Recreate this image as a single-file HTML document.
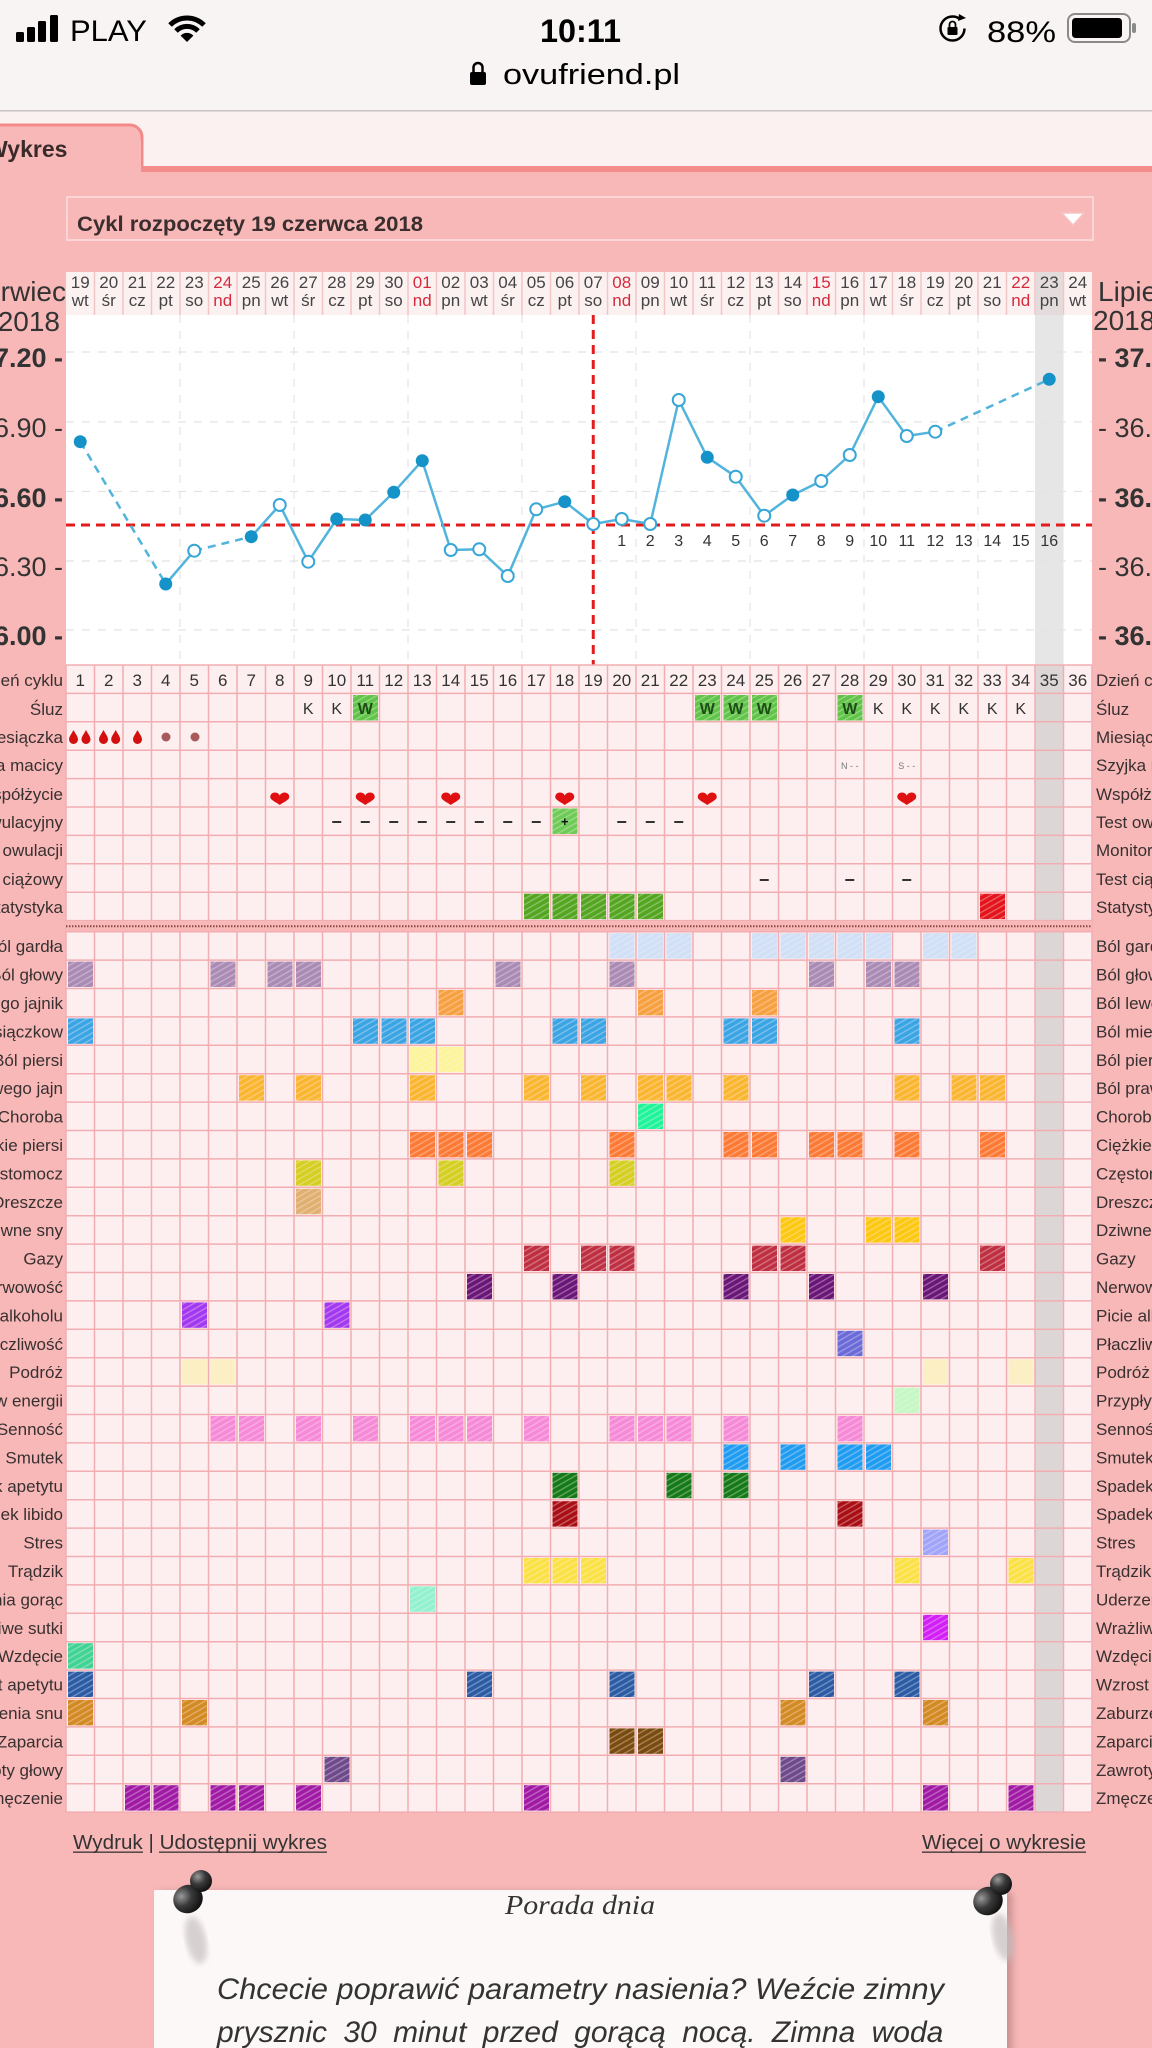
<!DOCTYPE html>
<html><head><meta charset="utf-8">
<style>
html,body{margin:0;padding:0;background:#f8b8b8;width:1152px;height:2048px;overflow:hidden}
svg{display:block}
text{font-family:"Liberation Sans",sans-serif;fill:#353030}
.h{font-size:17px;text-anchor:middle;fill:#444}
.hr{font-size:17px;text-anchor:middle;fill:#d42a3c}
.ll{font-size:17px;text-anchor:end;fill:#383030}
.rl{font-size:17px;fill:#383030}
.cd{font-size:17px;text-anchor:middle;fill:#333}
.cn{font-size:16px;text-anchor:middle;fill:#333}
.k{font-size:16px;text-anchor:middle;fill:#333}
.w{font-size:16px;text-anchor:middle;fill:#1f4d17;font-weight:bold}
.yb{font-size:27px;font-weight:bold;fill:#333}
.yn{font-size:27px;fill:#333}
.yl{text-anchor:end}
</style></head><body>
<svg width="1152" height="2048" viewBox="0 0 1152 2048" xmlns="http://www.w3.org/2000/svg">
<defs>
<path id="hrt" d="M0 6 C-4 3 -9.5 1 -9.5 -2 C-9.5 -5 -7 -6.5 -4.8 -6.5 C-2 -6.5 0 -4.5 0 -3 C0 -4.5 2 -6.5 4.8 -6.5 C7 -6.5 9.5 -5 9.5 -2 C9.5 1 4 3 0 6Z" fill="#e01010"/>
<path id="drp" d="M0 -7 C2 -3 4.5 -0.5 4.5 2.5 A4.5 4.5 0 0 1 -4.5 2.5 C-4.5 -0.5 -2 -3 0 -7Z" fill="#d40f0f"/>
<pattern id="hp" width="5" height="5" patternUnits="userSpaceOnUse" patternTransform="rotate(60)">
<rect width="5" height="5" fill="#fff"/><rect width="1.4" height="5" fill="#a8a8a8"/>
</pattern>
<mask id="mk" maskUnits="userSpaceOnUse" x="0" y="0" width="1152" height="2048">
<rect width="1152" height="2048" fill="url(#hp)"/>
</mask>
<radialGradient id="pinG" cx="35%" cy="30%" r="70%">
<stop offset="0" stop-color="#9a9a9a"/><stop offset="0.5" stop-color="#3a3a3a"/><stop offset="1" stop-color="#141414"/>
</radialGradient>
<filter id="sh" x="-5%" y="-10%" width="110%" height="130%">
<feDropShadow dx="5" dy="2" stdDeviation="4" flood-color="#8a5a5a" flood-opacity="0.45"/>
</filter>
<filter id="bl"><feGaussianBlur stdDeviation="3"/></filter>
</defs>

<!-- status / browser bar -->
<rect x="0" y="0" width="1152" height="111" fill="#f9f4f4"/>
<rect x="0" y="110" width="1152" height="1.5" fill="#c9c2c2"/>
<rect x="16" y="32" width="8" height="10" rx="1.5" fill="#000"/>
<rect x="27" y="27" width="8" height="15" rx="1.5" fill="#000"/>
<rect x="38" y="21" width="8" height="21" rx="1.5" fill="#000"/>
<rect x="50" y="15" width="8" height="27" rx="1.5" fill="#000"/>
<text x="70" y="41" style="font-size:30px;fill:#000" textLength="77" lengthAdjust="spacingAndGlyphs">PLAY</text>
<path d="M187 42 L180.6 35.6 A9 9 0 0 1 193.4 35.6 Z" fill="#000"/>
<path d="M176 31 A15.5 15.5 0 0 1 198 31" fill="none" stroke="#000" stroke-width="5"/>
<path d="M170 25 A24 24 0 0 1 204 25" fill="none" stroke="#000" stroke-width="5"/>
<text x="540" y="42" style="font-size:32px;font-weight:bold;fill:#000" textLength="81" lengthAdjust="spacingAndGlyphs">10:11</text>
<rect x="470" y="72" width="16" height="13" rx="2" fill="#000"/>
<path d="M473.5 72 V67.5 A4.5 4.5 0 0 1 482.5 67.5 V72" fill="none" stroke="#000" stroke-width="2.5"/>
<text x="503" y="84" style="font-size:29px;fill:#000" textLength="177" lengthAdjust="spacingAndGlyphs">ovufriend.pl</text>
<circle cx="952.5" cy="28.5" r="12" fill="none" stroke="#000" stroke-width="2.5" stroke-dasharray="64 12"/>
<path d="M959 14 L966 18 L958 21 Z" fill="#000"/>
<rect x="947.5" y="27" width="10" height="8" rx="1" fill="#000"/>
<path d="M949.5 27 V24.5 A3 3 0 0 1 955.5 24.5 V27" fill="none" stroke="#000" stroke-width="1.8"/>
<text x="987" y="42" style="font-size:30px;fill:#000" textLength="69" lengthAdjust="spacingAndGlyphs">88%</text>
<rect x="1068" y="14" width="62" height="28" rx="7" fill="none" stroke="#8a8a8a" stroke-width="2"/>
<rect x="1072" y="18" width="50" height="20" rx="3.5" fill="#000"/>
<rect x="1132" y="23" width="4" height="10" rx="2" fill="#8a8a8a"/>

<!-- tab area -->
<rect x="0" y="111.5" width="1152" height="56" fill="#fbf1f1"/>
<path d="M-5 175 V125 H130 A12 12 0 0 1 142 137 V175" fill="#f8b8b8" stroke="#f28a8a" stroke-width="3"/>
<rect x="140.5" y="166" width="1012" height="6" fill="#f48c8c"/>
<rect x="0" y="172" width="1152" height="1876" fill="#f8b8b8"/>
<rect x="-5" y="140" width="146" height="40" fill="#f8b8b8"/>
<text x="-14" y="157" style="font-size:23px;font-weight:bold;fill:#3a2a2a">Wykres</text>

<!-- dropdown -->
<rect x="67" y="197" width="1026" height="43" fill="#f8b8b8" stroke="#fcd6d6" stroke-width="2"/>
<text x="77" y="231" style="font-size:21px;font-weight:bold;fill:#3a2e2e" textLength="346" lengthAdjust="spacingAndGlyphs">Cykl rozpoczęty 19 czerwca 2018</text>
<path d="M1062 213 L1084 213 L1073 225 Z" fill="#fff" stroke="#f6c4c4" stroke-width="1.5"/>

<!-- month labels -->
<text x="66" y="301" style="font-size:28px;text-anchor:end;fill:#333">Czerwiec</text>
<text x="60" y="331" style="font-size:28px;text-anchor:end;fill:#333">2018</text>
<text x="1098" y="301" style="font-size:28px;fill:#333">Lipiec</text>
<text x="1093" y="330" style="font-size:28px;fill:#333">2018</text>

<!-- header -->
<rect x="66" y="272" width="1026" height="43" fill="#fcf1f1"/>
<rect x="1035" y="272" width="28.5" height="43" fill="#e4dcdc"/>
<path d="M94.5 272V315M123 272V315M151.5 272V315M180 272V315M208.5 272V315M237 272V315M265.5 272V315M294 272V315M322.5 272V315M351 272V315M379.5 272V315M408 272V315M436.5 272V315M465 272V315M493.5 272V315M522 272V315M550.5 272V315M579 272V315M607.5 272V315M636 272V315M664.5 272V315M693 272V315M721.5 272V315M750 272V315M778.5 272V315M807 272V315M835.5 272V315M864 272V315M892.5 272V315M921 272V315M949.5 272V315M978 272V315M1006.5 272V315M1035 272V315M1063.5 272V315" stroke="#f3c6c6" stroke-width="1.5"/>
<text class="h" x="80.25" y="288">19<tspan x="80.25" y="306">wt</tspan></text>
<text class="h" x="108.75" y="288">20<tspan x="108.75" y="306">śr</tspan></text>
<text class="h" x="137.25" y="288">21<tspan x="137.25" y="306">cz</tspan></text>
<text class="h" x="165.75" y="288">22<tspan x="165.75" y="306">pt</tspan></text>
<text class="h" x="194.25" y="288">23<tspan x="194.25" y="306">so</tspan></text>
<text class="hr" x="222.75" y="288">24<tspan x="222.75" y="306">nd</tspan></text>
<text class="h" x="251.25" y="288">25<tspan x="251.25" y="306">pn</tspan></text>
<text class="h" x="279.75" y="288">26<tspan x="279.75" y="306">wt</tspan></text>
<text class="h" x="308.25" y="288">27<tspan x="308.25" y="306">śr</tspan></text>
<text class="h" x="336.75" y="288">28<tspan x="336.75" y="306">cz</tspan></text>
<text class="h" x="365.25" y="288">29<tspan x="365.25" y="306">pt</tspan></text>
<text class="h" x="393.75" y="288">30<tspan x="393.75" y="306">so</tspan></text>
<text class="hr" x="422.25" y="288">01<tspan x="422.25" y="306">nd</tspan></text>
<text class="h" x="450.75" y="288">02<tspan x="450.75" y="306">pn</tspan></text>
<text class="h" x="479.25" y="288">03<tspan x="479.25" y="306">wt</tspan></text>
<text class="h" x="507.75" y="288">04<tspan x="507.75" y="306">śr</tspan></text>
<text class="h" x="536.25" y="288">05<tspan x="536.25" y="306">cz</tspan></text>
<text class="h" x="564.75" y="288">06<tspan x="564.75" y="306">pt</tspan></text>
<text class="h" x="593.25" y="288">07<tspan x="593.25" y="306">so</tspan></text>
<text class="hr" x="621.75" y="288">08<tspan x="621.75" y="306">nd</tspan></text>
<text class="h" x="650.25" y="288">09<tspan x="650.25" y="306">pn</tspan></text>
<text class="h" x="678.75" y="288">10<tspan x="678.75" y="306">wt</tspan></text>
<text class="h" x="707.25" y="288">11<tspan x="707.25" y="306">śr</tspan></text>
<text class="h" x="735.75" y="288">12<tspan x="735.75" y="306">cz</tspan></text>
<text class="h" x="764.25" y="288">13<tspan x="764.25" y="306">pt</tspan></text>
<text class="h" x="792.75" y="288">14<tspan x="792.75" y="306">so</tspan></text>
<text class="hr" x="821.25" y="288">15<tspan x="821.25" y="306">nd</tspan></text>
<text class="h" x="849.75" y="288">16<tspan x="849.75" y="306">pn</tspan></text>
<text class="h" x="878.25" y="288">17<tspan x="878.25" y="306">wt</tspan></text>
<text class="h" x="906.75" y="288">18<tspan x="906.75" y="306">śr</tspan></text>
<text class="h" x="935.25" y="288">19<tspan x="935.25" y="306">cz</tspan></text>
<text class="h" x="963.75" y="288">20<tspan x="963.75" y="306">pt</tspan></text>
<text class="h" x="992.25" y="288">21<tspan x="992.25" y="306">so</tspan></text>
<text class="hr" x="1020.75" y="288">22<tspan x="1020.75" y="306">nd</tspan></text>
<text class="h" x="1049.25" y="288">23<tspan x="1049.25" y="306">pn</tspan></text>
<text class="h" x="1077.75" y="288">24<tspan x="1077.75" y="306">wt</tspan></text>

<!-- chart -->
<rect x="66" y="315" width="1026" height="350" fill="#fff"/>
<rect x="1035" y="315" width="28.5" height="350" fill="#e6e6e6"/>
<path d="M66 352H1092M66 422H1092M66 491.5H1092M66 561H1092M66 630H1092" stroke="#e2e2e2" stroke-width="1.3" stroke-dasharray="8 8"/>
<path d="M180 315V665M294 315V665M408 315V665M522 315V665M636 315V665M750 315V665M864 315V665M978 315V665" stroke="#e6e6e6" stroke-width="1.3" stroke-dasharray="8 8"/>
<text class="yb yl" x="63" y="367">37.20 -</text>
<text class="yn yl" x="63" y="437">36.90 -</text>
<text class="yb yl" x="63" y="507">36.60 -</text>
<text class="yn yl" x="63" y="576">36.30 -</text>
<text class="yb yl" x="63" y="645">36.00 -</text>
<text class="yb" x="1098" y="367">- 37.20</text>
<text class="yn" x="1098" y="437">- 36.90</text>
<text class="yb" x="1098" y="507">- 36.60</text>
<text class="yn" x="1098" y="576">- 36.30</text>
<text class="yb" x="1098" y="645">- 36.00</text>
<line x1="66" y1="525" x2="1092" y2="525" stroke="#e21c1c" stroke-width="3" stroke-dasharray="9 6"/>
<line x1="593.25" y1="315" x2="593.25" y2="665" stroke="#e21c1c" stroke-width="3" stroke-dasharray="9 6"/>
<g class="cn">
<text class="cn" x="621.75" y="546">1</text><text class="cn" x="650.25" y="546">2</text><text class="cn" x="678.75" y="546">3</text><text class="cn" x="707.25" y="546">4</text><text class="cn" x="735.75" y="546">5</text><text class="cn" x="764.25" y="546">6</text><text class="cn" x="792.75" y="546">7</text><text class="cn" x="821.25" y="546">8</text><text class="cn" x="849.75" y="546">9</text><text class="cn" x="878.25" y="546">10</text><text class="cn" x="906.75" y="546">11</text><text class="cn" x="935.25" y="546">12</text><text class="cn" x="963.75" y="546">13</text><text class="cn" x="992.25" y="546">14</text><text class="cn" x="1020.75" y="546">15</text><text class="cn" x="1049.25" y="546">16</text>
</g>
<g fill="none" stroke="#52b4dc" stroke-width="2.5" stroke-linejoin="round">
<polyline points="165.75,584 194.25,550.7"/>
<polyline points="251.25,536.7 279.75,505 308.25,561.7 336.75,519 365.25,520 393.75,492.3 422.25,460.7 450.75,550 479.25,549.3 507.75,576 536.25,509.3 564.75,501.7 593.25,524 621.75,519 650.25,524 678.75,400 707.25,457.3 735.75,476.7 764.25,515.7 792.75,495 821.25,481 849.75,455 878.25,396.7 906.75,436 935.25,431.7"/>
<g stroke-dasharray="8 6">
<polyline points="80.25,441.7 165.75,584"/>
<polyline points="194.25,550.7 251.25,536.7"/>
<polyline points="935.25,431.7 1049.25,379.3"/>
</g>
</g>
<g fill="#1592c7">
<circle cx="80.25" cy="441.7" r="6.5"/><circle cx="165.75" cy="584" r="6.5"/><circle cx="251.25" cy="536.7" r="6.5"/><circle cx="336.75" cy="519" r="6.5"/><circle cx="365.25" cy="520" r="6.5"/><circle cx="393.75" cy="492.3" r="6.5"/><circle cx="422.25" cy="460.7" r="6.5"/><circle cx="564.75" cy="501.7" r="6.5"/><circle cx="707.25" cy="457.3" r="6.5"/><circle cx="792.75" cy="495" r="6.5"/><circle cx="878.25" cy="396.7" r="6.5"/><circle cx="1049.25" cy="379.3" r="6.5"/>
</g>
<g fill="#fff" stroke="#38a6d6" stroke-width="2">
<circle cx="194.25" cy="550.7" r="6"/><circle cx="279.75" cy="505" r="6"/><circle cx="308.25" cy="561.7" r="6"/><circle cx="450.75" cy="550" r="6"/><circle cx="479.25" cy="549.3" r="6"/><circle cx="507.75" cy="576" r="6"/><circle cx="536.25" cy="509.3" r="6"/><circle cx="593.25" cy="524" r="6"/><circle cx="621.75" cy="519" r="6"/><circle cx="650.25" cy="524" r="6"/><circle cx="678.75" cy="400" r="6"/><circle cx="735.75" cy="476.7" r="6"/><circle cx="764.25" cy="515.7" r="6"/><circle cx="821.25" cy="481" r="6"/><circle cx="849.75" cy="455" r="6"/><circle cx="906.75" cy="436" r="6"/><circle cx="935.25" cy="431.7" r="6"/>
</g>

<!-- table -->
<rect x="66" y="665" width="1026" height="1147" fill="#fdefef"/>
<rect x="1035" y="665" width="28.5" height="1147" fill="#ddd6d6"/>
<path d="M66 665V1812M94.5 665V1812M123 665V1812M151.5 665V1812M180 665V1812M208.5 665V1812M237 665V1812M265.5 665V1812M294 665V1812M322.5 665V1812M351 665V1812M379.5 665V1812M408 665V1812M436.5 665V1812M465 665V1812M493.5 665V1812M522 665V1812M550.5 665V1812M579 665V1812M607.5 665V1812M636 665V1812M664.5 665V1812M693 665V1812M721.5 665V1812M750 665V1812M778.5 665V1812M807 665V1812M835.5 665V1812M864 665V1812M892.5 665V1812M921 665V1812M949.5 665V1812M978 665V1812M1006.5 665V1812M1035 665V1812M1063.5 665V1812M1092 665V1812" stroke="#f2adb2" stroke-width="1.5"/>
<path d="M66 665H1092M66 693.4H1092M66 721.8H1092M66 750.2H1092M66 778.6H1092M66 807H1092M66 835.4H1092M66 863.8H1092M66 892.2H1092M66 920.6H1092M66 931.7H1092M66 960.1H1092M66 988.5H1092M66 1016.9H1092M66 1045.3H1092M66 1073.7H1092M66 1102.1H1092M66 1130.5H1092M66 1158.9H1092M66 1187.3H1092M66 1215.7H1092M66 1244.1H1092M66 1272.5H1092M66 1300.9H1092M66 1329.3H1092M66 1357.7H1092M66 1386.1H1092M66 1414.5H1092M66 1442.9H1092M66 1471.3H1092M66 1499.7H1092M66 1528.1H1092M66 1556.5H1092M66 1584.9H1092M66 1613.3H1092M66 1641.7H1092M66 1670.1H1092M66 1698.5H1092M66 1726.9H1092M66 1755.3H1092M66 1783.7H1092M66 1812.1H1092" stroke="#f2adb2" stroke-width="1.5"/>
<rect x="66" y="921.3" width="1026" height="9.7" fill="#f8b8b8"/>
<line x1="66" y1="926.2" x2="1092" y2="926.2" stroke="#8b4a4a" stroke-width="2" stroke-dasharray="1.5 1.5"/>

<!-- scribbles -->
<g mask="url(#mk)">
<g fill="#5fc548"><rect x="353" y="695" width="25" height="25.5"/><rect x="695" y="695" width="25" height="25.5"/><rect x="723.5" y="695" width="25" height="25.5"/><rect x="752" y="695" width="25" height="25.5"/><rect x="837.5" y="695" width="25" height="25.5"/><rect x="552.5" y="808.5" width="25" height="25.5" fill="#6ccc55"/></g>
<g fill="#52a620"><rect x="524" y="893.7" width="25" height="25.5"/><rect x="552.5" y="893.7" width="25" height="25.5"/><rect x="581" y="893.7" width="25" height="25.5"/><rect x="609.5" y="893.7" width="25" height="25.5"/><rect x="638" y="893.7" width="25" height="25.5"/></g>
<rect x="980" y="893.7" width="25" height="25.5" fill="#e3141b"/>

<g fill="#cfe0f7"><rect x="609.5" y="933.2" width="25" height="25.4"/><rect x="638" y="933.2" width="25" height="25.4"/><rect x="666.5" y="933.2" width="25" height="25.4"/><rect x="752" y="933.2" width="25" height="25.4"/><rect x="780.5" y="933.2" width="25" height="25.4"/><rect x="809" y="933.2" width="25" height="25.4"/><rect x="837.5" y="933.2" width="25" height="25.4"/><rect x="866" y="933.2" width="25" height="25.4"/><rect x="923" y="933.2" width="25" height="25.4"/><rect x="951.5" y="933.2" width="25" height="25.4"/></g>
<g fill="#a98bb5"><rect x="68" y="961.6" width="25" height="25.4"/><rect x="210.5" y="961.6" width="25" height="25.4"/><rect x="267.5" y="961.6" width="25" height="25.4"/><rect x="296" y="961.6" width="25" height="25.4"/><rect x="495.5" y="961.6" width="25" height="25.4"/><rect x="609.5" y="961.6" width="25" height="25.4"/><rect x="809" y="961.6" width="25" height="25.4"/><rect x="866" y="961.6" width="25" height="25.4"/><rect x="894.5" y="961.6" width="25" height="25.4"/></g>
<g fill="#f7a040"><rect x="438.5" y="990" width="25" height="25.4"/><rect x="638" y="990" width="25" height="25.4"/><rect x="752" y="990" width="25" height="25.4"/></g>
<g fill="#3aa5e5"><rect x="68" y="1018.4" width="25" height="25.4"/><rect x="353" y="1018.4" width="25" height="25.4"/><rect x="381.5" y="1018.4" width="25" height="25.4"/><rect x="410" y="1018.4" width="25" height="25.4"/><rect x="552.5" y="1018.4" width="25" height="25.4"/><rect x="581" y="1018.4" width="25" height="25.4"/><rect x="723.5" y="1018.4" width="25" height="25.4"/><rect x="752" y="1018.4" width="25" height="25.4"/><rect x="894.5" y="1018.4" width="25" height="25.4"/></g>
<g fill="#fdf59a"><rect x="410" y="1046.8" width="25" height="25.4"/><rect x="438.5" y="1046.8" width="25" height="25.4"/></g>
<g fill="#fbb630"><rect x="239" y="1075.2" width="25" height="25.4"/><rect x="296" y="1075.2" width="25" height="25.4"/><rect x="410" y="1075.2" width="25" height="25.4"/><rect x="524" y="1075.2" width="25" height="25.4"/><rect x="581" y="1075.2" width="25" height="25.4"/><rect x="638" y="1075.2" width="25" height="25.4"/><rect x="666.5" y="1075.2" width="25" height="25.4"/><rect x="723.5" y="1075.2" width="25" height="25.4"/><rect x="894.5" y="1075.2" width="25" height="25.4"/><rect x="951.5" y="1075.2" width="25" height="25.4"/><rect x="980" y="1075.2" width="25" height="25.4"/></g>
<rect x="638" y="1103.6" width="25" height="25.4" fill="#1ef59a"/>
<g fill="#fd7a35"><rect x="410" y="1132" width="25" height="25.4"/><rect x="438.5" y="1132" width="25" height="25.4"/><rect x="467" y="1132" width="25" height="25.4"/><rect x="609.5" y="1132" width="25" height="25.4"/><rect x="723.5" y="1132" width="25" height="25.4"/><rect x="752" y="1132" width="25" height="25.4"/><rect x="809" y="1132" width="25" height="25.4"/><rect x="837.5" y="1132" width="25" height="25.4"/><rect x="894.5" y="1132" width="25" height="25.4"/><rect x="980" y="1132" width="25" height="25.4"/></g>
<g fill="#d4cf20"><rect x="296" y="1160.4" width="25" height="25.4"/><rect x="438.5" y="1160.4" width="25" height="25.4"/><rect x="609.5" y="1160.4" width="25" height="25.4"/></g>
<rect x="296" y="1188.8" width="25" height="25.4" fill="#dfb070"/>
<g fill="#fdc810"><rect x="780.5" y="1217.2" width="25" height="25.4"/><rect x="866" y="1217.2" width="25" height="25.4"/><rect x="894.5" y="1217.2" width="25" height="25.4"/></g>
<g fill="#be2f42"><rect x="524" y="1245.6" width="25" height="25.4"/><rect x="581" y="1245.6" width="25" height="25.4"/><rect x="609.5" y="1245.6" width="25" height="25.4"/><rect x="752" y="1245.6" width="25" height="25.4"/><rect x="780.5" y="1245.6" width="25" height="25.4"/><rect x="980" y="1245.6" width="25" height="25.4"/></g>
<g fill="#6a1678"><rect x="467" y="1274" width="25" height="25.4"/><rect x="552.5" y="1274" width="25" height="25.4"/><rect x="723.5" y="1274" width="25" height="25.4"/><rect x="809" y="1274" width="25" height="25.4"/><rect x="923" y="1274" width="25" height="25.4"/></g>
<g fill="#a238f0"><rect x="182" y="1302.4" width="25" height="25.4"/><rect x="324.5" y="1302.4" width="25" height="25.4"/></g>
<rect x="837.5" y="1330.8" width="25" height="25.4" fill="#6a6ad8"/>
<g fill="#fcefc0"><rect x="182" y="1359.2" width="25" height="25.4"/><rect x="210.5" y="1359.2" width="25" height="25.4"/><rect x="923" y="1359.2" width="25" height="25.4"/><rect x="1008.5" y="1359.2" width="25" height="25.4"/></g>
<rect x="894.5" y="1387.6" width="25" height="25.4" fill="#c4f8c4"/>
<g fill="#f68ad8"><rect x="210.5" y="1416" width="25" height="25.4"/><rect x="239" y="1416" width="25" height="25.4"/><rect x="296" y="1416" width="25" height="25.4"/><rect x="353" y="1416" width="25" height="25.4"/><rect x="410" y="1416" width="25" height="25.4"/><rect x="438.5" y="1416" width="25" height="25.4"/><rect x="467" y="1416" width="25" height="25.4"/><rect x="524" y="1416" width="25" height="25.4"/><rect x="609.5" y="1416" width="25" height="25.4"/><rect x="638" y="1416" width="25" height="25.4"/><rect x="666.5" y="1416" width="25" height="25.4"/><rect x="723.5" y="1416" width="25" height="25.4"/><rect x="837.5" y="1416" width="25" height="25.4"/></g>
<g fill="#1e9cf2"><rect x="723.5" y="1444.4" width="25" height="25.4"/><rect x="780.5" y="1444.4" width="25" height="25.4"/><rect x="837.5" y="1444.4" width="25" height="25.4"/><rect x="866" y="1444.4" width="25" height="25.4"/></g>
<g fill="#137a17"><rect x="552.5" y="1472.8" width="25" height="25.4"/><rect x="666.5" y="1472.8" width="25" height="25.4"/><rect x="723.5" y="1472.8" width="25" height="25.4"/></g>
<g fill="#a80e14"><rect x="552.5" y="1501.2" width="25" height="25.4"/><rect x="837.5" y="1501.2" width="25" height="25.4"/></g>
<rect x="923" y="1529.6" width="25" height="25.4" fill="#a0a4fa"/>
<g fill="#fbe244"><rect x="524" y="1558" width="25" height="25.4"/><rect x="552.5" y="1558" width="25" height="25.4"/><rect x="581" y="1558" width="25" height="25.4"/><rect x="894.5" y="1558" width="25" height="25.4"/><rect x="1008.5" y="1558" width="25" height="25.4"/></g>
<rect x="410" y="1586.4" width="25" height="25.4" fill="#90f2cf"/>
<rect x="923" y="1614.8" width="25" height="25.4" fill="#d21ef7"/>
<rect x="68" y="1643.2" width="25" height="25.4" fill="#3fd494"/>
<g fill="#2a5ca5"><rect x="68" y="1671.6" width="25" height="25.4"/><rect x="467" y="1671.6" width="25" height="25.4"/><rect x="609.5" y="1671.6" width="25" height="25.4"/><rect x="809" y="1671.6" width="25" height="25.4"/><rect x="894.5" y="1671.6" width="25" height="25.4"/></g>
<g fill="#d38a22"><rect x="68" y="1700" width="25" height="25.4"/><rect x="182" y="1700" width="25" height="25.4"/><rect x="780.5" y="1700" width="25" height="25.4"/><rect x="923" y="1700" width="25" height="25.4"/></g>
<g fill="#7a4b0e"><rect x="609.5" y="1728.4" width="25" height="25.4"/><rect x="638" y="1728.4" width="25" height="25.4"/></g>
<g fill="#6d4a8c"><rect x="324.5" y="1756.8" width="25" height="25.4"/><rect x="780.5" y="1756.8" width="25" height="25.4"/></g>
<g fill="#a01aa6"><rect x="125" y="1785.2" width="25" height="25.4"/><rect x="153.5" y="1785.2" width="25" height="25.4"/><rect x="210.5" y="1785.2" width="25" height="25.4"/><rect x="239" y="1785.2" width="25" height="25.4"/><rect x="296" y="1785.2" width="25" height="25.4"/><rect x="524" y="1785.2" width="25" height="25.4"/><rect x="923" y="1785.2" width="25" height="25.4"/><rect x="1008.5" y="1785.2" width="25" height="25.4"/></g>
</g>

<!-- top rows content -->
<text class="cd" x="80.25" y="686">1</text><text class="cd" x="108.75" y="686">2</text><text class="cd" x="137.25" y="686">3</text><text class="cd" x="165.75" y="686">4</text><text class="cd" x="194.25" y="686">5</text><text class="cd" x="222.75" y="686">6</text><text class="cd" x="251.25" y="686">7</text><text class="cd" x="279.75" y="686">8</text><text class="cd" x="308.25" y="686">9</text><text class="cd" x="336.75" y="686">10</text><text class="cd" x="365.25" y="686">11</text><text class="cd" x="393.75" y="686">12</text><text class="cd" x="422.25" y="686">13</text><text class="cd" x="450.75" y="686">14</text><text class="cd" x="479.25" y="686">15</text><text class="cd" x="507.75" y="686">16</text><text class="cd" x="536.25" y="686">17</text><text class="cd" x="564.75" y="686">18</text><text class="cd" x="593.25" y="686">19</text><text class="cd" x="621.75" y="686">20</text><text class="cd" x="650.25" y="686">21</text><text class="cd" x="678.75" y="686">22</text><text class="cd" x="707.25" y="686">23</text><text class="cd" x="735.75" y="686">24</text><text class="cd" x="764.25" y="686">25</text><text class="cd" x="792.75" y="686">26</text><text class="cd" x="821.25" y="686">27</text><text class="cd" x="849.75" y="686">28</text><text class="cd" x="878.25" y="686">29</text><text class="cd" x="906.75" y="686">30</text><text class="cd" x="935.25" y="686">31</text><text class="cd" x="963.75" y="686">32</text><text class="cd" x="992.25" y="686">33</text><text class="cd" x="1020.75" y="686">34</text><text class="cd" x="1049.25" y="686">35</text><text class="cd" x="1077.75" y="686">36</text>

<text class="k" x="308.25" y="714">K</text><text class="k" x="336.75" y="714">K</text>
<text class="k" x="878.25" y="714">K</text><text class="k" x="906.75" y="714">K</text><text class="k" x="935.25" y="714">K</text><text class="k" x="963.75" y="714">K</text><text class="k" x="992.25" y="714">K</text><text class="k" x="1020.75" y="714">K</text>
<text class="w" x="365.25" y="714">W</text><text class="w" x="707.25" y="714">W</text><text class="w" x="735.75" y="714">W</text><text class="w" x="764.25" y="714">W</text><text class="w" x="849.75" y="714">W</text>

<use href="#drp" x="73.5" y="737"/><use href="#drp" x="86" y="737"/><use href="#drp" x="103.5" y="737"/><use href="#drp" x="115.7" y="737"/><use href="#drp" x="137.5" y="737"/>
<circle cx="166" cy="737" r="4.5" fill="#a85a5a"/><circle cx="195" cy="737" r="4.5" fill="#a85a5a"/>

<text x="849.75" y="769" style="font-size:9px;text-anchor:middle;fill:#777">N - -</text>
<text x="906.75" y="769" style="font-size:9px;text-anchor:middle;fill:#777">S - -</text>

<use href="#hrt" x="279.75" y="799"/><use href="#hrt" x="365.25" y="799"/><use href="#hrt" x="450.75" y="799"/><use href="#hrt" x="564.75" y="799"/><use href="#hrt" x="707.25" y="799"/><use href="#hrt" x="906.75" y="799"/>

<g fill="#333">
<rect x="332.25" y="821" width="9" height="2"/><rect x="360.75" y="821" width="9" height="2"/><rect x="389.25" y="821" width="9" height="2"/><rect x="417.75" y="821" width="9" height="2"/><rect x="446.25" y="821" width="9" height="2"/><rect x="474.75" y="821" width="9" height="2"/><rect x="503.25" y="821" width="9" height="2"/><rect x="531.75" y="821" width="9" height="2"/><rect x="617.25" y="821" width="9" height="2"/><rect x="645.75" y="821" width="9" height="2"/><rect x="674.25" y="821" width="9" height="2"/>
<rect x="759.75" y="879" width="9" height="2"/><rect x="845.25" y="879" width="9" height="2"/><rect x="902.25" y="879" width="9" height="2"/>
</g>
<text x="564.75" y="826" style="font-size:13px;font-weight:bold;text-anchor:middle;fill:#111">+</text>

<!-- left labels top -->
<text class="ll" x="63" y="686">Dzień cyklu</text>
<text class="ll" x="63" y="715">Śluz</text>
<text class="ll" x="63" y="743">Miesiączka</text>
<text class="ll" x="63" y="771">Szyjka macicy</text>
<text class="ll" x="63" y="800">Współżycie</text>
<text class="ll" x="63" y="828">Test owulacyjny</text>
<text class="ll" x="63" y="856">Monitor owulacji</text>
<text class="ll" x="63" y="885">Test ciążowy</text>
<text class="ll" x="63" y="913">Statystyka</text>
<text class="rl" x="1096" y="686">Dzień cyklu</text>
<text class="rl" x="1096" y="715">Śluz</text>
<text class="rl" x="1096" y="743">Miesiączka</text>
<text class="rl" x="1096" y="771">Szyjka macicy</text>
<text class="rl" x="1096" y="800">Współżycie</text>
<text class="rl" x="1096" y="828">Test owulacyjny</text>
<text class="rl" x="1096" y="856">Monitor owulacji</text>
<text class="rl" x="1096" y="885">Test ciążowy</text>
<text class="rl" x="1096" y="913">Statystyka</text>

<!-- symptom labels -->
<text class="ll" x="63" y="952">Ból gardła</text><text class="rl" x="1096" y="952">Ból gardła</text>
<text class="ll" x="63" y="980.5">Ból głowy</text><text class="rl" x="1096" y="980.5">Ból głowy</text>
<text class="ll" x="63" y="1009">Ból lewego jajnik</text><text class="rl" x="1096" y="1009">Ból lewego jajnik</text>
<text class="ll" x="63" y="1037.5">Ból miesiączkow</text><text class="rl" x="1096" y="1037.5">Ból miesiączkow</text>
<text class="ll" x="63" y="1066">Ból piersi</text><text class="rl" x="1096" y="1066">Ból piersi</text>
<text class="ll" x="63" y="1094">Ból prawego jajn</text><text class="rl" x="1096" y="1094">Ból prawego jajn</text>
<text class="ll" x="63" y="1122.5">Choroba</text><text class="rl" x="1096" y="1122.5">Choroba</text>
<text class="ll" x="63" y="1151">Ciężkie piersi</text><text class="rl" x="1096" y="1151">Ciężkie piersi</text>
<text class="ll" x="63" y="1179.5">Częstomocz</text><text class="rl" x="1096" y="1179.5">Częstomocz</text>
<text class="ll" x="63" y="1208">Dreszcze</text><text class="rl" x="1096" y="1208">Dreszcze</text>
<text class="ll" x="63" y="1236">Dziwne sny</text><text class="rl" x="1096" y="1236">Dziwne sny</text>
<text class="ll" x="63" y="1264.5">Gazy</text><text class="rl" x="1096" y="1264.5">Gazy</text>
<text class="ll" x="63" y="1293">Nerwowość</text><text class="rl" x="1096" y="1293">Nerwowość</text>
<text class="ll" x="63" y="1321.5">Picie alkoholu</text><text class="rl" x="1096" y="1321.5">Picie alkoholu</text>
<text class="ll" x="63" y="1350">Płaczliwość</text><text class="rl" x="1096" y="1350">Płaczliwość</text>
<text class="ll" x="63" y="1378">Podróż</text><text class="rl" x="1096" y="1378">Podróż</text>
<text class="ll" x="63" y="1406.5">Przypływ energii</text><text class="rl" x="1096" y="1406.5">Przypływ energii</text>
<text class="ll" x="63" y="1435">Senność</text><text class="rl" x="1096" y="1435">Senność</text>
<text class="ll" x="63" y="1463.5">Smutek</text><text class="rl" x="1096" y="1463.5">Smutek</text>
<text class="ll" x="63" y="1492">Spadek apetytu</text><text class="rl" x="1096" y="1492">Spadek apetytu</text>
<text class="ll" x="63" y="1520">Spadek libido</text><text class="rl" x="1096" y="1520">Spadek libido</text>
<text class="ll" x="63" y="1548.5">Stres</text><text class="rl" x="1096" y="1548.5">Stres</text>
<text class="ll" x="63" y="1577">Trądzik</text><text class="rl" x="1096" y="1577">Trądzik</text>
<text class="ll" x="63" y="1605.5">Uderzenia gorąc</text><text class="rl" x="1096" y="1605.5">Uderzenia gorąca</text>
<text class="ll" x="63" y="1634">Wrażliwe sutki</text><text class="rl" x="1096" y="1634">Wrażliwe sutki</text>
<text class="ll" x="63" y="1662">Wzdęcie</text><text class="rl" x="1096" y="1662">Wzdęcie</text>
<text class="ll" x="63" y="1690.5">Wzrost apetytu</text><text class="rl" x="1096" y="1690.5">Wzrost apetytu</text>
<text class="ll" x="63" y="1719">Zaburzenia snu</text><text class="rl" x="1096" y="1719">Zaburzenia snu</text>
<text class="ll" x="63" y="1747.5">Zaparcia</text><text class="rl" x="1096" y="1747.5">Zaparcia</text>
<text class="ll" x="63" y="1776">Zawroty głowy</text><text class="rl" x="1096" y="1776">Zawroty głowy</text>
<text class="ll" x="63" y="1804">Zmęczenie</text><text class="rl" x="1096" y="1804">Zmęczenie</text>

<!-- links -->
<text x="73" y="1849" style="font-size:20px;fill:#333" textLength="254" lengthAdjust="spacingAndGlyphs">Wydruk | Udostępnij wykres</text>
<rect x="73" y="1851.5" width="70" height="1.3" fill="#333"/>
<rect x="159" y="1851.5" width="168" height="1.3" fill="#333"/>
<text x="922" y="1849" style="font-size:20px;fill:#333" textLength="164" lengthAdjust="spacingAndGlyphs">Więcej o wykresie</text>
<rect x="922" y="1851.5" width="164" height="1.3" fill="#333"/>

<!-- note card -->
<rect x="154" y="1890" width="853" height="180" fill="#fcf8f7" filter="url(#sh)"/>
<ellipse cx="196" cy="1940" rx="10" ry="24" fill="#c8c0c0" opacity="0.7" filter="url(#bl)" transform="rotate(-12 196 1940)"/>
<ellipse cx="1003" cy="1937" rx="10" ry="24" fill="#c8c0c0" opacity="0.7" filter="url(#bl)" transform="rotate(-12 1003 1937)"/>
<ellipse cx="188" cy="1899" rx="15" ry="14" fill="url(#pinG)" transform="rotate(-30 188 1899)"/>
<circle cx="201" cy="1881" r="11" fill="url(#pinG)"/>
<ellipse cx="988" cy="1901" rx="15" ry="14" fill="url(#pinG)" transform="rotate(-30 988 1901)"/>
<circle cx="1001" cy="1884" r="11" fill="url(#pinG)"/>
<text x="505" y="1914" style="font-family:'Liberation Serif',serif;font-style:italic;font-size:27px;fill:#333" textLength="150" lengthAdjust="spacingAndGlyphs">Porada dnia</text>
<text x="217" y="1999" style="font-style:italic;font-size:30px;fill:#333" textLength="727" lengthAdjust="spacingAndGlyphs">Chcecie poprawić parametry nasienia? Weźcie zimny</text>
<text x="217" y="2042" style="font-style:italic;font-size:30px;fill:#333;word-spacing:8px">prysznic 30 minut przed gorącą nocą. Zimna woda</text>
</svg>
</body></html>
